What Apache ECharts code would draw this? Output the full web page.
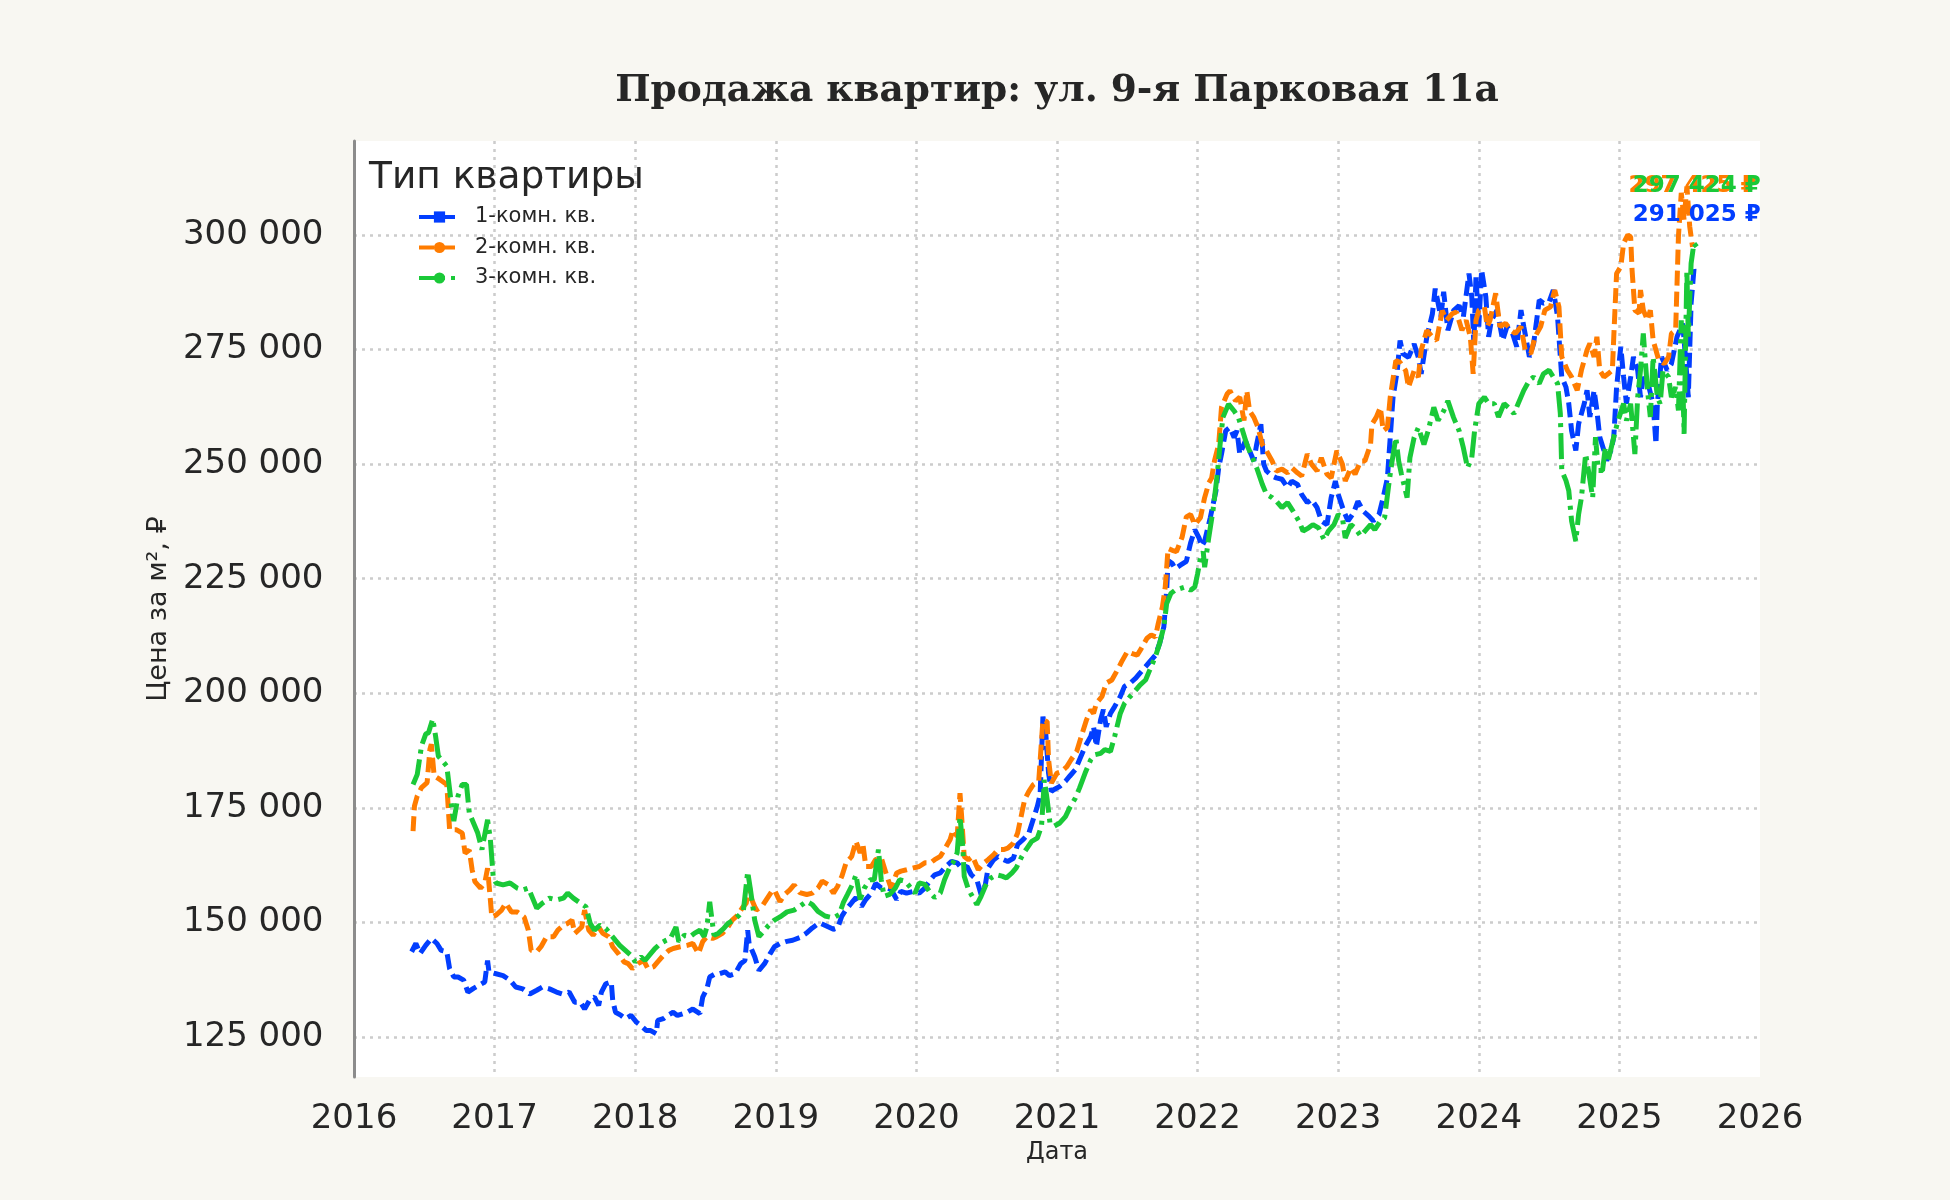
<!DOCTYPE html>
<html>
<head>
<meta charset="utf-8">
<script src="https://cdn.jsdelivr.net/npm/echarts@6/dist/echarts.min.js"></script>
<style>
html,body{margin:0;padding:0;background:#f8f7f2;}
#chart{width:1950px;height:1200px;}
</style>
</head>
<body>
<div id="chart"></div>
<script>
const yearTicks = [2016, 2017, 2018, 2019, 2020, 2021, 2022, 2023, 2024, 2025, 2026];
const priceTicks = [125000, 150000, 175000, 200000, 225000, 250000, 275000, 300000];
const seriesNames = ['1-комн. кв.', '2-комн. кв.', '3-комн. кв.'];

// [year (decimal), price per m², ₽]
const oneRoom = [
[2016.41,143600],[2016.44,145400],[2016.47,143200],[2016.51,145000],[2016.55,146500],[2016.59,145400],[2016.62,143900],[2016.66,143600],
[2016.68,139900],[2016.71,138100],[2016.74,138100],[2016.78,137400],[2016.81,134800],[2016.85,135600],[2016.89,136300],[2016.93,137000],
[2016.95,141700],[2016.96,139200],[2017.01,138800],[2017.06,138400],[2017.11,137400],[2017.15,135900],[2017.20,135500],[2017.25,134400],
[2017.30,135200],[2017.34,135900],[2017.39,135500],[2017.44,134800],[2017.48,134400],[2017.53,134800],[2017.57,132600],[2017.61,132600],
[2017.64,131100],[2017.68,133300],[2017.71,133700],[2017.74,131900],[2017.76,134800],[2017.79,136600],[2017.83,137000],[2017.84,133000],
[2017.86,130400],[2017.90,129700],[2017.93,129000],[2017.97,129700],[2018.01,128200],[2018.04,127500],[2018.08,126400],[2018.11,126400],
[2018.15,125700],[2018.16,128600],[2018.20,129000],[2018.23,129700],[2018.27,130400],[2018.30,129700],[2018.34,130100],[2018.37,130400],
[2018.41,131100],[2018.46,130100],[2018.48,133700],[2018.51,135500],[2018.53,138100],[2018.57,138800],[2018.60,138800],[2018.64,139200],
[2018.67,138400],[2018.71,138800],[2018.75,141000],[2018.78,141700],[2018.80,148300],[2018.81,145400],[2018.85,142500],[2018.88,139500],
[2018.92,141000],[2018.96,143200],[2018.99,144700],[2019.03,145400],[2019.07,145800],[2019.12,146100],[2019.17,146700],[2019.22,147700],
[2019.26,148800],[2019.31,149900],[2019.36,149200],[2019.41,148500],[2019.44,148800],[2019.47,151400],[2019.50,152800],[2019.54,154300],
[2019.57,155400],[2019.61,153500],[2019.64,155000],[2019.68,156400],[2019.71,158500],[2019.75,157500],[2019.79,157500],[2019.82,157200],
[2019.86,155000],[2019.89,156800],[2019.93,156400],[2019.98,156800],[2020.02,156400],[2020.06,157500],[2020.10,159300],[2020.13,160400],
[2020.17,160800],[2020.21,162200],[2020.25,163300],[2020.29,163000],[2020.32,161900],[2020.36,162200],[2020.39,160400],[2020.43,159300],
[2020.46,156100],[2020.49,158200],[2020.51,161900],[2020.55,163700],[2020.58,164400],[2020.62,163700],[2020.65,163300],[2020.69,164000],
[2020.72,167000],[2020.76,168100],[2020.80,169500],[2020.83,172400],[2020.86,175300],[2020.88,177900],[2020.90,194900],[2020.92,191300],
[2020.94,182600],[2020.96,178600],[2020.98,179000],[2021.02,179700],[2021.06,180800],[2021.09,181900],[2021.13,183300],[2021.16,185500],
[2021.20,188400],[2021.24,190600],[2021.26,192700],[2021.28,188400],[2021.31,194200],[2021.33,196400],[2021.35,192700],[2021.38,195600],
[2021.41,197100],[2021.45,199300],[2021.48,201500],[2021.52,202200],[2021.56,203300],[2021.59,204400],[2021.63,205800],[2021.66,206900],
[2021.70,208300],[2021.73,210900],[2021.76,214500],[2021.78,222500],[2021.79,229000],[2021.82,228300],[2021.84,227200],[2021.88,228000],
[2021.92,228800],[2021.95,232800],[2021.98,235700],[2022.01,233900],[2022.03,232100],[2022.05,233200],[2022.09,238300],[2022.13,244100],
[2022.15,249200],[2022.17,252200],[2022.20,257300],[2022.23,258000],[2022.26,255800],[2022.28,257300],[2022.30,252200],[2022.34,255100],
[2022.37,252900],[2022.40,250700],[2022.42,254300],[2022.45,258700],[2022.47,250000],[2022.49,248500],[2022.53,247400],[2022.56,247000],
[2022.60,246700],[2022.64,244900],[2022.67,246300],[2022.71,245600],[2022.74,243400],[2022.78,241600],[2022.81,242300],[2022.85,240500],
[2022.88,237600],[2022.92,236800],[2022.95,242700],[2022.98,246300],[2023.00,243400],[2023.04,239700],[2023.07,237600],[2023.11,239400],
[2023.14,241900],[2023.18,239700],[2023.22,238600],[2023.25,237600],[2023.29,239000],[2023.32,242700],[2023.35,247000],[2023.37,255800],
[2023.39,264600],[2023.42,270400],[2023.44,277000],[2023.46,274100],[2023.50,273300],[2023.54,276200],[2023.57,273300],[2023.59,269700],
[2023.63,277700],[2023.67,282800],[2023.69,288300],[2023.73,282100],[2023.75,287600],[2023.78,279200],[2023.82,283500],[2023.86,284600],
[2023.89,282100],[2023.93,291600],[2023.95,286500],[2023.965,276000],[2023.98,291000],[2024.00,280000],[2024.02,292400],[2024.05,286500],
[2024.07,277800],[2024.09,281400],[2024.13,283600],[2024.17,277000],[2024.20,280000],[2024.24,278500],[2024.27,275600],[2024.30,283600],
[2024.32,280000],[2024.36,273400],[2024.39,276300],[2024.43,285800],[2024.46,285100],[2024.50,285400],[2024.53,288000],[2024.56,282200],
[2024.58,273400],[2024.59,269000],[2024.62,266800],[2024.64,263200],[2024.66,257300],[2024.69,253000],[2024.71,258800],[2024.75,263200],
[2024.77,266100],[2024.79,260300],[2024.82,266100],[2024.84,261700],[2024.86,255900],[2024.89,253000],[2024.91,250800],[2024.94,253000],
[2024.96,255900],[2024.98,266800],[2025.01,275600],[2025.03,269000],[2025.05,263200],[2025.08,269000],[2025.10,273400],[2025.13,270500],
[2025.15,264600],[2025.17,269000],[2025.21,266800],[2025.24,263200],[2025.26,254400],[2025.27,263200],[2025.30,273400],[2025.34,270500],
[2025.37,271900],[2025.41,277800],[2025.45,280700],[2025.47,273400],[2025.49,264600],[2025.51,285100],[2025.53,292400],[2025.55,291025]
];

const twoRoom = [
[2016.42,169900],[2016.43,175400],[2016.45,177600],[2016.48,179400],[2016.52,180500],[2016.54,187800],[2016.55,188900],[2016.57,182000],
[2016.61,181200],[2016.66,180100],[2016.68,170200],[2016.73,170200],[2016.77,169500],[2016.79,165100],[2016.82,165800],[2016.84,161500],
[2016.86,158900],[2016.90,157500],[2016.93,158600],[2016.95,161800],[2016.97,154900],[2016.98,151200],[2017.01,151600],[2017.05,152700],
[2017.08,154200],[2017.12,152300],[2017.16,152300],[2017.21,151200],[2017.24,148300],[2017.26,143900],[2017.30,143600],[2017.33,144700],
[2017.37,146900],[2017.42,146900],[2017.45,148300],[2017.49,149400],[2017.52,149800],[2017.55,150500],[2017.57,147600],[2017.62,149000],
[2017.64,152700],[2017.67,148300],[2017.70,147200],[2017.74,149000],[2017.77,147600],[2017.81,146900],[2017.84,144700],[2017.88,143200],
[2017.92,141400],[2017.95,141000],[2017.98,139900],[2018.02,141000],[2018.06,141700],[2018.09,139900],[2018.13,140300],[2018.16,141400],
[2018.20,142800],[2018.24,143900],[2018.27,144300],[2018.32,144700],[2018.37,145000],[2018.41,145400],[2018.45,143200],[2018.48,145800],
[2018.51,146900],[2018.55,146500],[2018.58,146900],[2018.62,147600],[2018.66,149000],[2018.69,150500],[2018.73,151600],[2018.76,153100],
[2018.79,154200],[2018.81,158200],[2018.83,154900],[2018.86,152700],[2018.90,153400],[2018.94,155300],[2018.97,156700],[2018.99,157100],
[2019.03,154500],[2019.06,156000],[2019.10,157100],[2019.13,158200],[2019.17,156500],[2019.22,156100],[2019.26,156400],[2019.30,157500],
[2019.33,159000],[2019.37,158300],[2019.41,156400],[2019.44,157900],[2019.47,160100],[2019.50,163000],[2019.54,164400],[2019.57,167700],
[2019.60,165200],[2019.62,167000],[2019.64,162200],[2019.68,162200],[2019.71,163700],[2019.75,164100],[2019.79,160100],[2019.82,157500],
[2019.86,160800],[2019.89,161200],[2019.93,161500],[2019.98,161900],[2020.02,162200],[2020.06,163000],[2020.10,163000],[2020.13,163700],
[2020.17,164400],[2020.20,165900],[2020.24,168100],[2020.26,170200],[2020.29,168800],[2020.31,178200],[2020.32,173900],[2020.34,164400],
[2020.37,163700],[2020.40,164400],[2020.44,161500],[2020.48,163000],[2020.51,163700],[2020.55,164800],[2020.58,165900],[2020.62,165900],
[2020.65,166200],[2020.69,167300],[2020.72,169500],[2020.75,173900],[2020.77,176800],[2020.80,178600],[2020.83,180000],[2020.87,180800],
[2020.90,194200],[2020.93,193800],[2020.94,185500],[2020.96,180400],[2021.00,182600],[2021.03,182900],[2021.07,184000],[2021.10,185500],
[2021.14,187300],[2021.18,191300],[2021.21,194200],[2021.24,196400],[2021.26,195600],[2021.28,197800],[2021.32,199300],[2021.35,202200],
[2021.39,202900],[2021.43,205100],[2021.46,206900],[2021.50,209100],[2021.53,208700],[2021.57,208300],[2021.60,209800],[2021.64,212000],
[2021.67,212700],[2021.70,212300],[2021.72,215200],[2021.75,218900],[2021.77,223200],[2021.79,231600],[2021.82,231200],[2021.85,230900],
[2021.89,234100],[2021.92,238500],[2021.95,239000],[2021.98,236800],[2022.02,238300],[2022.05,242700],[2022.08,245900],[2022.10,247000],
[2022.12,250700],[2022.15,254300],[2022.17,262400],[2022.21,265300],[2022.23,266000],[2022.27,263800],[2022.30,264600],[2022.33,259500],
[2022.35,266000],[2022.37,261600],[2022.40,260200],[2022.43,258000],[2022.46,254300],[2022.49,252900],[2022.53,250700],[2022.56,248500],
[2022.60,248900],[2022.64,248100],[2022.67,249200],[2022.71,248100],[2022.74,247400],[2022.78,252200],[2022.81,250000],[2022.85,248500],
[2022.88,251400],[2022.92,247800],[2022.95,247000],[2022.99,252900],[2023.03,250000],[2023.05,246300],[2023.09,249200],[2023.12,247800],
[2023.16,250700],[2023.19,250700],[2023.23,254300],[2023.24,258700],[2023.27,260200],[2023.30,262400],[2023.32,257300],[2023.35,258000],
[2023.37,264600],[2023.41,272600],[2023.44,272200],[2023.48,270400],[2023.50,266800],[2023.54,270400],[2023.57,269000],[2023.59,274800],
[2023.63,279200],[2023.67,277700],[2023.70,277000],[2023.74,283500],[2023.77,281400],[2023.81,282800],[2023.84,283200],[2023.88,279200],
[2023.91,281400],[2023.94,277700],[2023.96,269700],[2023.98,281400],[2024.00,283600],[2024.04,284300],[2024.06,280000],[2024.08,281400],
[2024.12,287300],[2024.15,280000],[2024.19,280700],[2024.23,279200],[2024.26,278500],[2024.30,280000],[2024.33,274900],[2024.37,274100],
[2024.40,277800],[2024.44,280000],[2024.47,283600],[2024.51,284300],[2024.54,288000],[2024.57,284300],[2024.59,273400],[2024.63,270500],
[2024.66,269000],[2024.70,266100],[2024.73,270500],[2024.77,274900],[2024.79,276300],[2024.82,273400],[2024.84,277800],[2024.86,270500],
[2024.89,269000],[2024.92,269700],[2024.95,270500],[2024.96,277800],[2024.98,291600],[2025.01,293100],[2025.03,298200],[2025.06,300000],
[2025.08,299600],[2025.09,292400],[2025.11,283600],[2025.14,282900],[2025.15,288000],[2025.17,283600],[2025.20,281400],[2025.22,283600],
[2025.24,277000],[2025.28,272700],[2025.32,271900],[2025.35,273400],[2025.37,278500],[2025.40,279200],[2025.42,299700],[2025.44,309200],
[2025.46,303300],[2025.48,310600],[2025.50,301900],[2025.52,297425]
];

const threeRoom = [
[2016.42,180100],[2016.45,182300],[2016.48,188500],[2016.51,191100],[2016.53,191400],[2016.56,194400],[2016.58,190700],[2016.60,186300],
[2016.63,185200],[2016.66,184100],[2016.68,179000],[2016.70,173900],[2016.71,172100],[2016.74,177600],[2016.77,180100],[2016.80,180100],
[2016.82,173900],[2016.85,171700],[2016.88,169500],[2016.91,165900],[2016.93,169200],[2016.95,172400],[2016.97,168100],[2016.99,160000],
[2017.01,158600],[2017.06,158200],[2017.11,158600],[2017.16,157500],[2017.20,157100],[2017.24,157500],[2017.27,155300],[2017.30,153100],
[2017.34,154200],[2017.39,155300],[2017.44,154900],[2017.49,155300],[2017.52,156400],[2017.56,155300],[2017.61,154200],[2017.65,153400],
[2017.68,149800],[2017.71,148300],[2017.75,149400],[2017.79,148700],[2017.82,147600],[2017.86,146100],[2017.89,145000],[2017.93,143900],
[2017.97,142800],[2018.00,141400],[2018.04,142500],[2018.07,141700],[2018.11,143200],[2018.14,144300],[2018.18,145400],[2018.22,146100],
[2018.25,146500],[2018.29,149000],[2018.31,145800],[2018.35,147200],[2018.39,146900],[2018.42,147600],[2018.46,148300],[2018.49,146900],
[2018.51,149000],[2018.53,154500],[2018.56,147200],[2018.59,147600],[2018.63,148700],[2018.66,149800],[2018.70,150500],[2018.74,151600],
[2018.77,152700],[2018.80,161100],[2018.82,157100],[2018.85,150500],[2018.88,146900],[2018.92,148300],[2018.95,149400],[2018.99,150500],
[2019.03,151200],[2019.08,152300],[2019.13,152700],[2019.17,153500],[2019.22,154600],[2019.26,153900],[2019.30,152400],[2019.35,151400],
[2019.41,151000],[2019.45,151700],[2019.48,154300],[2019.51,156100],[2019.55,158600],[2019.57,160400],[2019.60,155000],[2019.63,157500],
[2019.67,159300],[2019.70,159300],[2019.73,165900],[2019.75,159300],[2019.77,155700],[2019.81,156100],[2019.85,157500],[2019.88,159300],
[2019.92,159000],[2019.95,157900],[2019.99,156400],[2020.02,158600],[2020.06,158300],[2020.10,156400],[2020.13,155400],[2020.17,156400],
[2020.20,159300],[2020.24,162200],[2020.26,163000],[2020.29,165200],[2020.31,173100],[2020.33,166600],[2020.34,160100],[2020.37,157200],
[2020.39,156100],[2020.43,153900],[2020.46,155700],[2020.50,158600],[2020.53,159700],[2020.57,160400],[2020.61,160100],[2020.64,159700],
[2020.68,160800],[2020.71,161900],[2020.75,164400],[2020.78,165900],[2020.82,167700],[2020.86,168400],[2020.89,171000],[2020.91,181100],
[2020.93,176800],[2020.95,171700],[2020.98,171000],[2021.02,171700],[2021.06,173100],[2021.09,175000],[2021.13,177100],[2021.16,179300],
[2021.20,182600],[2021.24,185500],[2021.27,186600],[2021.31,186900],[2021.34,187700],[2021.38,187300],[2021.41,190600],[2021.45,195600],
[2021.48,197800],[2021.52,199300],[2021.56,200700],[2021.59,201800],[2021.63,202900],[2021.66,205100],[2021.70,208000],[2021.73,210900],
[2021.76,214500],[2021.78,219600],[2021.81,221800],[2021.84,222500],[2021.88,222900],[2021.91,223200],[2021.95,222500],[2021.98,223200],
[2022.00,226100],[2022.02,229500],[2022.04,230900],[2022.05,227500],[2022.08,234100],[2022.11,240000],[2022.14,247800],[2022.16,254300],
[2022.18,260200],[2022.22,263100],[2022.26,261600],[2022.29,260200],[2022.32,257300],[2022.35,254300],[2022.39,251400],[2022.42,249200],
[2022.46,245600],[2022.49,243400],[2022.53,242700],[2022.56,241900],[2022.60,240500],[2022.64,241600],[2022.68,239700],[2022.72,237600],
[2022.75,235400],[2022.79,236100],[2022.82,236800],[2022.86,236100],[2022.90,233500],[2022.93,235400],[2022.97,236800],[2023.00,239000],
[2023.03,238300],[2023.05,233900],[2023.09,236800],[2023.12,236100],[2023.16,234300],[2023.19,235400],[2023.23,236800],[2023.26,235700],
[2023.30,237600],[2023.33,238300],[2023.36,245600],[2023.38,250000],[2023.41,255800],[2023.43,250700],[2023.45,247800],[2023.49,242700],
[2023.51,251400],[2023.54,255800],[2023.57,258000],[2023.61,254300],[2023.64,257300],[2023.68,262400],[2023.71,259500],[2023.75,261600],
[2023.78,263800],[2023.82,260200],[2023.86,257300],[2023.89,253600],[2023.92,249200],[2023.95,251400],[2023.97,257300],[2024.00,263200],
[2024.04,264600],[2024.07,263200],[2024.11,263200],[2024.14,260300],[2024.18,263200],[2024.21,262400],[2024.25,261000],[2024.28,263200],
[2024.32,266100],[2024.36,268300],[2024.39,269000],[2024.43,267600],[2024.46,269700],[2024.50,270500],[2024.53,269000],[2024.56,267600],
[2024.58,261000],[2024.59,248600],[2024.62,246400],[2024.64,244200],[2024.66,237600],[2024.69,233200],[2024.71,239100],[2024.73,242700],
[2024.76,252200],[2024.78,248600],[2024.81,242700],[2024.83,255900],[2024.85,248600],[2024.88,248600],[2024.90,253700],[2024.92,250800],
[2024.96,255900],[2024.99,259500],[2025.03,263200],[2025.05,259500],[2025.08,263200],[2025.11,252200],[2025.13,264600],[2025.15,270500],
[2025.17,278500],[2025.20,266100],[2025.22,260300],[2025.24,273400],[2025.27,264600],[2025.29,263200],[2025.31,270500],[2025.35,269000],
[2025.37,264600],[2025.40,266800],[2025.42,261700],[2025.44,281400],[2025.46,256600],[2025.48,292400],[2025.49,277800],[2025.51,293800],
[2025.53,298200],[2025.55,297424]
];

const fmt = v => String(Math.round(v)).replace(/\B(?=(\d{3})+(?!\d))/g, ' ');
const FONT = 'DejaVu Sans';
const TXT = '#262626';

function makeSeries(name, pts, color, dash, symbol) {
  const last = pts[pts.length - 1];
  return {
    name: name,
    type: 'line',
    data: pts,
    showSymbol: false,
    symbol: symbol,
    symbolSize: 8,
    lineStyle: { color: color, width: 5, type: dash },
    itemStyle: { color: color },
    emphasis: { disabled: true },
    markPoint: {
      symbol: 'circle',
      symbolSize: 1,
      itemStyle: { color: 'rgba(0,0,0,0)' },
      data: [{ coord: last, value: last[1] }],
      label: {
        show: true, position: 'top', distance: 49,
        formatter: p => fmt(p.value) + ' ₽',
        color: color, fontWeight: 'bold', fontSize: 23, fontFamily: FONT
      }
    }
  };
}

const chart = echarts.init(document.getElementById('chart'), null, { renderer: 'canvas' });
chart.setOption({
  backgroundColor: '#f8f7f2',
  animation: false,
  textStyle: { fontFamily: FONT },
  title: [
    { text: 'Продажа квартир: ул. 9-я Парковая 11а', left: 1052, top: 67, textAlign: 'center',
      textStyle: { fontFamily: 'DejaVu Serif', fontWeight: 'bold', fontSize: 37.5, color: TXT } },
    { text: 'Тип квартиры', left: 364, top: 154,
      textStyle: { fontFamily: FONT, fontWeight: 'normal', fontSize: 37.5, color: TXT } }
  ],
  legend: {
    orient: 'vertical', left: 412, top: 200,
    itemWidth: 41, itemHeight: 14, itemGap: 6.5,
    lineStyle: { width: 4 },
    textStyle: { fontSize: 21, lineHeight: 24, color: TXT, fontFamily: FONT, padding: [0, 0, 0, 10] },
    data: seriesNames
  },
  grid: { left: 354, right: 190, top: 141, bottom: 123, show: true, backgroundColor: '#ffffff', borderWidth: 0 },
  xAxis: {
    type: 'value', min: yearTicks[0], max: yearTicks[yearTicks.length - 1], interval: 1,
    axisLine: { show: false }, axisTick: { show: false },
    axisLabel: { fontSize: 34, color: TXT, margin: 25, formatter: v => String(v) },
    splitLine: { show: true, showMaxLine: false, lineStyle: { color: '#cccccc', width: 2.5, type: [3, 5] } },
    name: 'Дата', nameLocation: 'middle', nameGap: 63.5,
    nameTextStyle: { fontSize: 24, color: TXT }
  },
  yAxis: {
    type: 'value', min: 116270, max: 320510,
    axisLine: { show: true, lineStyle: { color: '#8c8c8c', width: 3 } },
    axisTick: { show: false, customValues: priceTicks },
    axisLabel: { customValues: priceTicks, fontSize: 34, color: TXT, margin: 30.5, formatter: v => fmt(v) },
    splitLine: { show: true, lineStyle: { color: '#cccccc', width: 2.5, type: [3, 5] } },
    name: 'Цена за м², ₽', nameLocation: 'middle', nameGap: 181, nameRotate: 90,
    nameTextStyle: { fontSize: 27, color: TXT }
  },
  series: [
    makeSeries(seriesNames[0], oneRoom, '#023eff', [15, 6], 'rect'),
    makeSeries(seriesNames[1], twoRoom, '#ff7c00', [15, 6], 'circle'),
    makeSeries(seriesNames[2], threeRoom, '#1ac938', [26, 6, 4, 6], 'circle')
  ]
});
</script>
</body>
</html>
